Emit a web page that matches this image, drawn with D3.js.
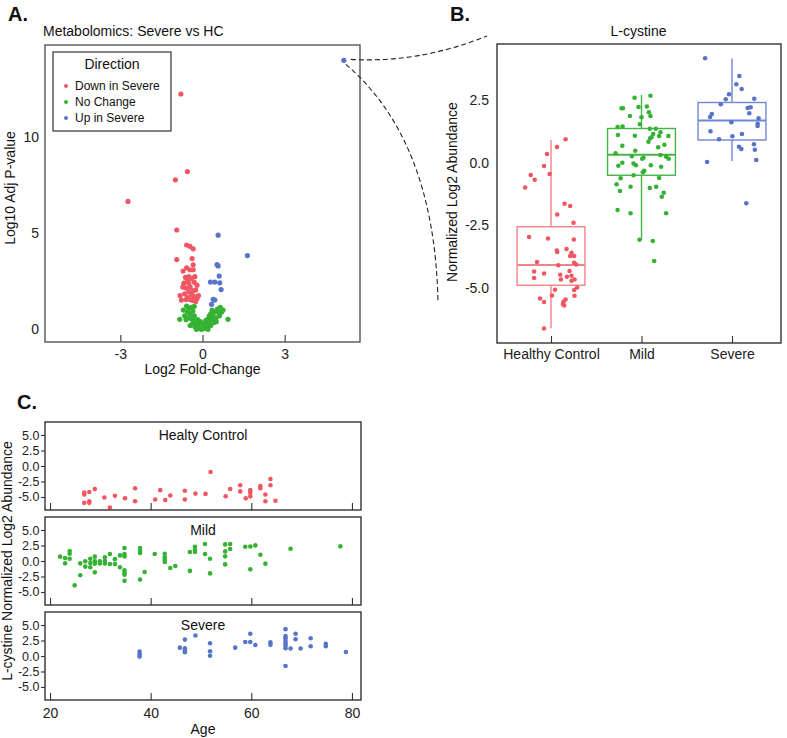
<!DOCTYPE html>
<html><head><meta charset="utf-8">
<script src="https://cdn.jsdelivr.net/npm/d3@7"></script>
<style>
body{margin:0;background:#fff;}
svg{display:block;font-family:"Liberation Sans",Arial,Helvetica,sans-serif;}
</style></head><body>
<svg id="chart" width="787" height="738"></svg>
<script>
// ---------------- DATA ----------------
// Panel A: volcano plot [log2 fold-change, -log10 adj p]
const directions = ["Down in Severe", "No Change", "Up in Severe"];
const volcanoDown = [
  [-0.79,12.25],[-2.72,6.66],[-0.55,8.21],[-0.99,7.78],[-0.94,5.17],[-0.58,4.39],[-0.46,4.32],[-0.34,4.19],
  [-0.94,3.63],[-0.38,3.68],[-0.34,3.36],[-0.71,3.03],[-0.58,3.2],[-0.46,3.1],[-0.34,3.1],[-0.28,2.74],
  [-0.62,2.7],[-0.5,2.75],[-0.4,2.65],[-0.68,2.4],[-0.55,2.5],[-0.3,2.45],[-0.2,2.3],[-0.45,2.2],
  [-0.6,2.15],[-0.72,2.2],[-0.35,2.0],[-0.25,2.05],[-0.5,1.95],[-0.65,1.85],[-0.4,1.8],[-0.3,1.7],
  [-0.55,1.65],[-0.2,1.6],[-0.45,1.55],[-0.35,1.5],[-0.6,1.55],[-0.25,1.45],[-0.82,1.76],[-0.77,1.52],
  [-0.15,1.75],[-0.5,2.4]
];
const volcanoNone = [
  [-0.83,0.52],[0.93,0.52],[-0.58,1.21],[-0.5,1.1],[-0.4,1.15],[-0.3,1.2],[-0.35,0.95],[-0.45,0.8],
  [-0.55,0.9],[-0.65,0.7],[-0.6,0.5],[-0.5,0.6],[-0.4,0.55],[-0.3,0.7],[-0.25,0.45],[-0.35,0.35],
  [-0.2,0.3],[-0.28,0.15],[-0.15,0.1],[-0.1,0.05],[-0.05,0.0],[0,0.02],[0.05,0.05],[0.1,0.1],
  [0.15,0.05],[0.2,0.0],[-0.12,0.25],[0.08,0.3],[0.18,0.25],[0.25,0.4],[0.3,0.2],[0.35,0.5],
  [0.4,0.65],[0.3,0.8],[0.45,0.9],[0.55,1.05],[0.6,0.85],[0.65,1.15],[0.7,0.9],[0.5,0.6],
  [0.25,0.7],[0.35,1.0],[0.2,0.55],[0.75,1.0],[0.62,0.7],[-0.18,0.5],[-0.08,0.4],[0.0,0.3],
  [-0.22,0.0],[0.12,0.45],[0.42,0.35],[-0.45,0.2],[0.5,0.4],[-0.7,1.0]
];
const volcanoUp = [
  [5.16,14.0],[0.57,4.9],[1.64,3.84],[0.53,3.37],[0.57,3.3],[0.61,2.77],[0.29,2.46],[0.45,2.46],
  [0.63,2.42],[0.68,2.07],[0.39,1.56],[0.45,1.52],[0.33,1.3]
];
const highlightPoint = [5.16, 14.0]; // L-cystine
const volcanoXTicks = [-3, 0, 3];
const volcanoYTicks = [0, 5, 10];

// Panel B: L-cystine by group [jitter (fraction of category step), value]
const groups = ["Healthy Control", "Mild", "Severe"];
const hcPoints = [
  [0.161,0.94],[0.066,0.63],[-0.044,0.35],[-0.077,-0.13],[-0.015,-0.45],[-0.224,-0.49],[-0.18,-0.68],[-0.286,-0.99],
  [0.15,-1.64],[0.212,-1.73],[0.069,-2.07],[0.249,-2.4],[-0.242,-2.97],[-0.033,-3.03],[0.253,-3.07],[0.064,-3.51],
  [0.069,-3.57],[0.172,-3.45],[0.227,-3.6],[0.212,-3.73],[0.256,-3.73],[-0.154,-3.97],[0.08,-4.1],[0.256,-4.0],
  [0.278,-4.07],[-0.187,-4.35],[-0.077,-4.43],[0.102,-4.48],[0.205,-4.33],[0.227,-4.52],[0.176,-4.56],[-0.187,-4.61],
  [0.11,-4.67],[0.227,-4.72],[0.26,-4.67],[0.289,-4.99],[0.256,-5.09],[0.044,-5.08],[0.011,-5.31],[0.26,-5.32],
  [-0.121,-5.43],[-0.077,-5.57],[0.161,-5.47],[0.139,-5.56],[0.132,-5.65],[0.146,-5.71],[-0.077,-6.63]
];
const mildPoints = [
  [0.099,2.68],[-0.077,2.6],[-0.22,2.18],[-0.205,2.18],[-0.033,2.23],[0.059,2.25],[0.081,2.02],[0.099,1.87],
  [-0.128,1.87],[0,1.82],[-0.018,1.54],[-0.264,1.43],[-0.209,1.45],[0.092,1.36],[0.158,1.36],[-0.26,1.11],
  [-0.073,1.08],[0.129,1.15],[0.195,1.07],[0.209,1.22],[0.297,1.07],[0.096,0.98],[0.11,1.02],[0.077,0.84],
  [-0.212,0.68],[0.184,0.62],[0.253,0.72],[-0.069,0.48],[-0.286,0.38],[-0.106,0.26],[0.022,0.2],[0.008,0.16],
  [0.209,0.31],[0.272,0.24],[0.301,0.16],[-0.212,0.0],[-0.256,-0.12],[-0.088,-0.03],[-0.062,-0.1],[0.103,-0.1],
  [0.217,-0.16],[0.03,-0.32],[0.015,-0.38],[-0.088,-0.5],[-0.231,-0.62],[0.195,-0.61],[-0.275,-0.86],[-0.121,-0.96],
  [0.092,-1.01],[0.162,-0.96],[-0.238,-1.13],[0.246,-1.2],[0.224,-1.36],[-0.264,-1.89],[-0.121,-2.02],[0.272,-2.02],
  [-0.022,-3.08],[0.125,-3.13],[0.14,-3.93]
];
const severePoints = [
  [-0.297,4.18],[0.081,3.47],[0.048,3.14],[0.107,2.95],[-0.033,2.74],[-0.069,2.54],[0.246,2.56],[-0.124,2.34],
  [0.173,2.19],[0.206,2.22],[0.191,1.98],[-0.223,1.95],[-0.242,1.83],[0.294,1.78],[-0.007,1.62],[0.283,1.56],
  [0.283,1.47],[-0.238,1.26],[0.11,1.15],[0.004,1.06],[-0.143,0.94],[0.242,0.74],[0.077,0.64],[0.103,0.55],
  [0.253,0.52],[0.268,0.11],[-0.275,0.03],[0.158,-1.62]
];
// box statistics: [whiskerLow, q1, median, q3, whiskerHigh]
const boxHC = [-6.62, -4.9, -4.09, -2.56, 0.91];
const boxMild = [-3.09, -0.5, 0.32, 1.37, 2.71];
const boxSevere = [0.07, 0.91, 1.69, 2.41, 4.17];
const boxYTicks = [2.5, 0.0, -2.5, -5.0];

// Panel C: L-cystine vs age [age, value]
const facetTitles = ["Healty Control", "Mild", "Severe"];
const ageHC = [
  [26.8,-4.3],[26.8,-4.6],[26.8,-5.95],[27.8,-4.2],[27.8,-5.7],[27.8,-5.95],[28.9,-3.73],[30.8,-5.08],
  [31.9,-6.7],[32.9,-4.8],[34.9,-5.2],[36.9,-3.6],[36.9,-5.7],[40.9,-5.4],[41.9,-3.9],[42.9,-5.5],
  [43.9,-4.76],[46.8,-4.0],[46.8,-5.4],[48.9,-4.45],[50.9,-4.5],[51.9,-0.97],[54.9,-4.87],[55.8,-3.7],
  [57.8,-3.1],[57.8,-4.1],[58.9,-5.2],[59.8,-3.9],[59.8,-4.3],[59.8,-4.9],[61.8,-3.25],[61.8,-3.6],
  [62.8,-4.6],[62.8,-5.7],[63.8,-2.1],[63.8,-3.1],[64.8,-5.6]
];
const ageMild = [
  [22.0,0.7],[23.0,0.48],[23.0,-0.38],[23.9,1.61],[23.9,1.18],[23.9,0.37],[24.9,-3.93],[26.0,-0.38],
  [26.0,-2.3],[27.0,-0.06],[27.0,-0.9],[28.0,0.37],[28.0,-0.33],[28.0,-1.0],[28.9,0.7],[28.9,-0.05],
  [28.9,-0.43],[28.9,-1.83],[29.9,-0.05],[29.9,-0.4],[30.9,0.6],[30.9,0.0],[30.9,-0.4],[31.9,1.13],
  [31.9,-0.48],[32.9,0.3],[32.9,-0.5],[33.9,0.9],[33.9,-1.0],[34.8,2.1],[34.8,1.13],[34.8,0.75],
  [34.8,-1.5],[34.8,-1.94],[34.8,-2.2],[34.8,-3.2],[37.9,2.1],[37.9,1.66],[37.9,1.29],[37.9,-3.0],
  [38.8,-1.78],[40.8,1.13],[42.8,1.18],[42.8,0.6],[42.8,0.2],[42.8,-0.16],[43.9,-1.13],[44.9,-0.8],
  [47.8,1.45],[47.8,-1.6],[48.8,2.3],[48.8,1.77],[48.8,1.45],[50.8,2.74],[50.8,1.13],[51.8,0.37],
  [51.8,-2.0],[54.8,2.68],[54.8,1.55],[54.8,0.75],[54.8,-0.55],[55.8,2.74],[55.8,1.93],[58.8,2.3],
  [59.8,2.35],[59.8,-1.35],[60.8,2.52],[61.8,1.0],[62.8,-0.43],[67.8,1.98],[77.7,2.36]
];
const ageSevere = [
  [37.8,0.7],[37.8,0.27],[37.8,-0.1],[45.8,1.35],[46.8,2.65],[46.8,1.25],[46.8,0.92],[46.8,0.6],
  [48.9,3.3],[51.8,2.05],[51.8,0.76],[51.8,0.05],[56.8,1.35],[58.8,2.27],[59.8,3.6],[59.8,2.27],
  [60.8,1.78],[63.8,2.2],[63.8,1.8],[66.8,4.33],[66.8,3.2],[66.8,2.87],[66.8,2.43],[66.8,2.05],
  [66.8,1.67],[66.8,1.25],[66.8,-1.62],[67.8,1.2],[68.8,3.6],[68.8,2.7],[69.8,1.2],[71.8,2.87],
  [71.8,1.57],[74.8,1.95],[74.8,1.57],[78.8,0.65]
];
const ageTicks = [20, 40, 60, 80];
const facetYTicks = [5.0, 2.5, 0.0, -2.5, -5.0];

// ---------------- STYLE ----------------
const colDown = "#EF5763", colNone = "#35B234", colUp = "#5874C9";
const groupColors = [colDown, colNone, colUp];
const boxColors = ["#F2838B", "#47B347", "#6F87D4"];
const TICK_COL = "#222";

const svg = d3.select("#chart");

function styleAxis(g, fs) {
  g.select(".domain").remove();
  g.selectAll(".tick line").attr("stroke", "#333").attr("stroke-width", 1.1);
  g.selectAll(".tick text").attr("font-size", fs).attr("fill", TICK_COL)
    .attr("font-family", '"Liberation Sans",Arial,sans-serif');
}
function label(x, y, txt, opts = {}) {
  const t = svg.append("text").attr("x", x).attr("y", y).text(txt)
    .attr("font-size", opts.fs || 14).attr("fill", opts.fill || "#111")
    .attr("text-anchor", opts.anchor || "start");
  if (opts.bold) t.attr("font-weight", "bold");
  if (opts.rotate) t.attr("transform", `rotate(-90,${x},${y})`);
  return t;
}

// ---------------- PANEL A ----------------
const A = { x0: 45, x1: 360, y0: 45, y1: 342 };
const ax = d3.scaleLinear().domain([-5.75, 5.75]).range([A.x0, A.x1]);
const ay = d3.scaleLinear().domain([-0.66, 14.8]).range([A.y1, A.y0]);

label(8, 21, "A.", { fs: 20, bold: true });
label(43, 36, "Metabolomics: Severe vs HC", { fs: 14 });

const gAx = svg.append("g").attr("transform", `translate(0,${A.y1})`)
  .call(d3.axisBottom(ax).tickValues(volcanoXTicks).tickSize(-7).tickPadding(7).tickFormat(d => String(d)));
styleAxis(gAx, 14);
const gAy = svg.append("g").attr("transform", `translate(${A.x0},0)`)
  .call(d3.axisLeft(ay).tickValues(volcanoYTicks).tickSize(0).tickPadding(6).tickFormat(d => String(d)));
styleAxis(gAy, 14);

const volcSets = [volcanoNone, volcanoDown, volcanoUp];
const volcCols = [colNone, colDown, colUp];
volcSets.forEach((set, i) => {
  svg.append("g").selectAll("circle").data(set).join("circle")
    .attr("cx", d => ax(d[0])).attr("cy", d => ay(d[1])).attr("r", 2.6)
    .attr("fill", volcCols[i]);
});
svg.append("rect").attr("x", A.x0).attr("y", A.y0).attr("width", A.x1 - A.x0).attr("height", A.y1 - A.y0)
  .attr("fill", "none").attr("stroke", "#555").attr("stroke-width", 1.4);

label((A.x0 + A.x1) / 2, 374, "Log2 Fold-Change", { anchor: "middle" });
label(15, 188, "Log10 Adj P-value", { anchor: "middle", rotate: true });

// legend
const leg = svg.append("g");
leg.append("rect").attr("x", 53).attr("y", 52).attr("width", 118).attr("height", 79)
  .attr("fill", "#fff").attr("stroke", "#333").attr("stroke-width", 1.2);
leg.append("text").attr("x", 112).attr("y", 69).attr("text-anchor", "middle").attr("font-size", 14)
  .attr("fill", "#111").text("Direction");
directions.forEach((d, i) => {
  const cy = 86 + i * 16;
  leg.append("circle").attr("cx", 66).attr("cy", cy).attr("r", 2).attr("fill", groupColors[i]);
  leg.append("text").attr("x", 75).attr("y", cy).attr("dy", "0.36em").attr("font-size", 12)
    .attr("fill", "#111").text(d);
});

// ---------------- PANEL B ----------------
const B = { x0: 497, x1: 781, y0: 44, y1: 343 };
const bx = d3.scalePoint().domain(groups).range([B.x0 + 54, B.x1 - 49]);
const by = d3.scaleLinear().domain([-7.21, 4.75]).range([B.y1, B.y0]);
const step = bx.step();

label(450, 21, "B.", { fs: 20, bold: true });
label((B.x0 + B.x1) / 2 - 0.5, 36, "L-cystine", { anchor: "middle" });

const gBx = svg.append("g").attr("transform", `translate(0,${B.y1})`)
  .call(d3.axisBottom(bx).tickSize(-7).tickPadding(6));
styleAxis(gBx, 14);
const gBy = svg.append("g").attr("transform", `translate(${B.x0},0)`)
  .call(d3.axisLeft(by).tickValues(boxYTicks).tickSize(0).tickPadding(8).tickFormat(d => d.toFixed(1)));
styleAxis(gBy, 14);

const boxes = [boxHC, boxMild, boxSevere];
const ptsB = [hcPoints, mildPoints, severePoints];
const boxW = step * 0.75;
groups.forEach((g, i) => {
  const cx = bx(g), s = boxes[i], c = boxColors[i];
  const bg = svg.append("g").attr("stroke", c).attr("fill", "none");
  bg.append("line").attr("x1", cx).attr("x2", cx).attr("y1", by(s[4])).attr("y2", by(s[3])).attr("stroke-width", 1.4);
  bg.append("line").attr("x1", cx).attr("x2", cx).attr("y1", by(s[1])).attr("y2", by(s[0])).attr("stroke-width", 1.4);
  bg.append("rect").attr("x", cx - boxW / 2).attr("y", by(s[3])).attr("width", boxW)
    .attr("height", by(s[1]) - by(s[3])).attr("stroke-width", 1.4);
  bg.append("line").attr("x1", cx - boxW / 2).attr("x2", cx + boxW / 2).attr("y1", by(s[2])).attr("y2", by(s[2]))
    .attr("stroke-width", 2.2);
  svg.append("g").selectAll("circle").data(ptsB[i]).join("circle")
    .attr("cx", d => cx + d[0] * step).attr("cy", d => by(d[1])).attr("r", 2.3)
    .attr("fill", groupColors[i]);
});
svg.append("rect").attr("x", B.x0).attr("y", B.y0).attr("width", B.x1 - B.x0).attr("height", B.y1 - B.y0)
  .attr("fill", "none").attr("stroke", "#222").attr("stroke-width", 1.3);
label(457, 192, "Normalized Log2 Abundance", { anchor: "middle", rotate: true });

// dashed connectors from the highlighted volcano point to panel B
const hpX = ax(highlightPoint[0]), hpY = ay(highlightPoint[1]);
const conn = svg.append("g").attr("fill", "none").attr("stroke", "#222").attr("stroke-width", 1.1)
  .attr("stroke-dasharray", "5,3");
conn.append("path").attr("d", `M${hpX + 7},${hpY - 1} Q${hpX + 75},${hpY + 3} ${B.x0 - 10},${B.y0 - 8}`);
conn.append("path").attr("d", `M${hpX + 2},${hpY + 4} Q${B.x0 - 62},${hpY + 80} ${B.x0 - 59},${B.y1 - 40}`);

// ---------------- PANEL C ----------------
const C = { x0: 45, x1: 361, tops: [422, 517, 612], h: 88 };
const cx = d3.scaleLinear().domain([19, 81.8]).range([C.x0, C.x1]);
const ageSets = [ageHC, ageMild, ageSevere];

label(17, 409, "C.", { fs: 20, bold: true });

facetTitles.forEach((t, i) => {
  const top = C.tops[i], bot = top + C.h;
  const cy = d3.scaleLinear().domain([-7.1, 7.1]).range([bot, top]);
  const gx = svg.append("g").attr("transform", `translate(0,${bot})`)
    .call(d3.axisBottom(cx).tickValues(ageTicks).tickSize(-7).tickPadding(8)
      .tickFormat(i === 2 ? (d => String(d)) : () => ""));
  styleAxis(gx, 14);
  const gy = svg.append("g").attr("transform", `translate(${C.x0},0)`)
    .call(d3.axisLeft(cy).tickValues(facetYTicks).tickSize(4).tickPadding(1.5).tickFormat(d => d.toFixed(1)));
  styleAxis(gy, 12.5);
  svg.append("g").selectAll("circle").data(ageSets[i]).join("circle")
    .attr("cx", d => cx(d[0])).attr("cy", d => cy(d[1])).attr("r", 2.3)
    .attr("fill", groupColors[i]);
  svg.append("rect").attr("x", C.x0).attr("y", top).attr("width", C.x1 - C.x0).attr("height", C.h)
    .attr("fill", "none").attr("stroke", "#222").attr("stroke-width", 1.3);
  label((C.x0 + C.x1) / 2, top + 18, t, { anchor: "middle" });
});
label((C.x0 + C.x1) / 2, 734, "Age", { anchor: "middle" });
label(12, 561, "L-cystine Normalized Log2 Abundance", { anchor: "middle", rotate: true });
</script>
</body></html>
